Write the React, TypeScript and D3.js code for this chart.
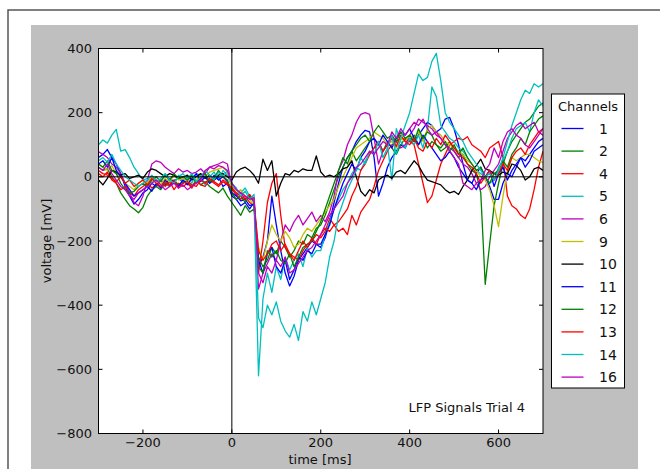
import React from "react";
import * as d3 from "d3";

// time axis, 10 ms steps from -300 to 700
const times = d3.range(-300, 701, 10);

const channels = ["1", "2", "4", "5", "6", "9", "10", "11", "12", "13", "14", "16"];
const colors = ["#0000ff", "#008000", "#ff0000", "#00bfbf", "#bf00bf", "#bfbf00", "#000000", "#0000ff", "#008000", "#ff0000", "#00bfbf", "#bf00bf"];

const ch1 = [
    60, 70, 85, 60, 40, 10, -30, -60, -85, -70,
    -50, -40, -20, -30, -10, -25, -5, -15, 0, -20,
    -10, 5, -15, -5, 10, -20, -10, 0, -30, -20,
    -60, -70, -90, -80, -100, -80, -280, -250, -200, -60,
    -150, -230, -300, -340, -310, -260, -240, -220, -200, -210,
    -220, -190, -140, -80, -20, 30, 60, 80, 110, 130,
    145, 140, 60, -60, -20, 30, 60, 80, 100, 90,
    120, 110, 130, 150, 170, 160, 140, 150, 180, 185,
    150, 100, 40, -10, -20, 10, 30, 0, -30, -70,
    -70, -20, 10, 0, 30, 60, 50, 70, 90, 110,
    120
];
const ch2 = [
    30, 20, 25, 0, -20, -50, -70, -90, -100, -112,
    -95, -60, -40, -30, -40, -20, -30, -10, -25, -15,
    -20, -30, -10, -25, -15, -30, -40, -50, -35, -60,
    -80, -100, -120, -90, -110, -100, -250, -280, -260, -220,
    -240, -200, -220, -250, -230, -200, -210, -180, -190, -160,
    -150, -120, -80, -40, 0, 30, 60, 80, 50, 70,
    90, 110, 120, 100, 80, 110, 90, 70, 100, 120,
    110, 130, 100, 120, 90, 110, 100, 80, 90, 110,
    80, 60, 70, 40, 20, 10, -50, -335, -210, -90,
    -20, 40, 80, 110, 130, 150, 170, 180, 200, 220,
    230
];
const ch4 = [
    10, 0, 15, -10, -20, -40, -30, -50, -60, -40,
    -30, -20, -35, -25, -10, -30, -15, -40, -20, -30,
    -20, -35, -10, -25, -30, -10, -20, -30, -15, -25,
    -40, -55, -70, -60, -80, -90, -300, -200, -80, -20,
    10, -120, -220, -240, -250, -260, -230, -210, -200, -180,
    -190, -170, -130, -150, -170, -160, -180, -120, -150, -110,
    -90, -70, -30, 20, 50, 80, 100, 110, 120, 115,
    110, 100, 40, -20, -80, -60, -10, 40, 70, 100,
    110, 120, 115, 125, 100, 90, 80, 60, 90, 100,
    110, 60, -60, -90, -100, -120, -130, -100, -40, 30,
    80
];
const ch5 = [
    100, 115, 105, 130, 148, 80, 85, 60, 30, 10,
    -10, -5, -20, 0, -15, 10, -10, -20, 5, -15,
    0, -20, 10, 5, -25, 0, 15, -10, 20, 5,
    -30, -40, -50, -35, -60, -80, -620, -380, -300, -360,
    -280, -320, -250, -290, -260, -240, -280, -220, -250, -230,
    -230, -180, -140, -100, -70, -40, -20, 10, 30, 20,
    50, 70, 90, 110, 80, 100, -10, 150, 110, 90,
    120, 100, 130, 90, 150, 280, 250, 160, 140, 120,
    110, 90, 80, 60, 40, 20, 10, 0, -20, -10,
    30, 50, 80, 120, 150, 160, 170, 140, 200, 240,
    220
];
const ch6 = [
    78, 70, 60, 40, 30, 10, -20, -50, -80, -90,
    -60, -10, 40, 50, 45, 30, 20, 10, 25, 15,
    20, 10, 15, 25, 10, 30, 35, 40, 47, 40,
    -30, -60, -50, -70, -60, -80, -350, -300, -270, -240,
    -260, -200, -150, -170, -140, -120, -150, -130, -110, -140,
    -120, -140, -110, -60, 20, 50, 100, 130, 170, 195,
    200, 195, 120, 40, 80, 100, 120, 110, 90, 100,
    130, 150, 180, 170, 160, 150, 130, 120, 100, 90,
    80, 60, 40, 30, 10, -20, -40, -30, 0, 20,
    40, 80, 120, 140, 160, 170, 150, 160, 170, 140,
    130
];
const ch9 = [
    40, 30, 20, 35, 10, 0, -20, -30, -40, -20,
    -10, -20, 0, -10, -25, -5, -15, 5, -10, -5,
    -15, 0, -10, 10, 0, 15, 20, 25, 30, 15,
    -30, -50, -40, -60, -70, -90, -220, -260, -200, -150,
    -180, -200, -170, -190, -220, -210, -180, -160, -170, -150,
    -130, -110, -90, -70, -30, 0, 30, 60, 90, 100,
    110, 120, 140, 130, 120, 100, 110, 90, 120, 110,
    130, 120, 140, 110, 150, 160, 140, 130, 110, 100,
    90, 80, 70, 50, 40, 20, 0, -10, -40, -90,
    -155, -60, 20, 60, 50, 60, 70, 70, 60, 50,
    45
];
const ch10 = [
    -10, -25, -5, 20, 15, 5, 10, -5, 0, 5,
    -5, 15, 25, 20, 10, 0, 10, 5, -5, 0,
    5, -10, 0, 10, -5, 5, -10, 5, 10, 0,
    -10, 15, 25, 30, 20, 5, -20, 55, 20, 50,
    -60, -20, 10, 5, 20, 15, 25, 20, 20, 65,
    15, 0, 5, 0, 10, 25, 30, 50, 0, -45,
    -60, -40, -50, -10, 0, 5, -5, 15, 20, 10,
    30, 50, 35, 10, -10, -15, -20, -25, -40, -50,
    -45, -55, -30, -10, 20, 35, 55, 25, 20, 10,
    5, 15, 10, 40, 35, 20, -10, 0, 25, 30,
    20
];
const ch11 = [
    40, 50, 30, 60, 20, 0, -20, -40, -60, -50,
    -40, -30, -45, -20, -35, -10, -25, -15, -30, -10,
    -25, -5, 10, -15, 0, -20, 5, -10, 0, -15,
    -50, -60, -75, -70, -90, -85, -260, -300, -240, -220,
    -280, -300, -260, -320, -290, -250, -260, -230, -240, -210,
    -210, -180, -150, -100, -60, -20, 10, 40, 20, 60,
    80, 110, 120, 100, 130, 110, 90, 120, 140, 130,
    150, 120, 100, 130, 110, 90, 70, 50, 60, 80,
    60, 30, 10, -10, -20, -40, -10, 0, 20, -30,
    10, 30, -10, 20, 40, 60, 30, 50, 80, 90,
    100
];
const ch12 = [
    40, 30, 50, 20, 10, -20, -40, -50, -45, -30,
    -20, -30, -10, 0, -15, 5, -10, 10, -5, 0,
    -10, 5, -20, 0, 10, -15, -5, 20, 0, -10,
    -50, -70, -60, -80, -60, -75, -280, -300, -230, -250,
    -230, -260, -270, -240, -280, -250, -220, -210, -200, -170,
    -140, -100, -60, -20, 20, 60, 40, 80, 100, 120,
    130, 110, 140, 160, 140, 120, 130, 110, 140, 120,
    130, 110, 150, 120, 140, 130, 100, 90, 110, 80,
    100, 70, 90, 60, 40, 20, 30, 0, -20, 10,
    20, 50, 30, 70, 90, 120, 100, 140, 160, 180,
    190
];
const ch13 = [
    20, 10, 5, -5, -15, 0, -20, -10, -30, -20,
    -10, -25, -5, -20, -30, -15, -25, -10, -35, -20,
    -15, -25, -30, -10, -20, -5, -15, -25, -10, -20,
    -35, -50, -60, -70, -55, -75, -230, -260, -240, -210,
    -200, -230, -210, -240, -260, -230, -200, -220, -190, -210,
    -180, -160, -170, -150, -140, -120, -100, -60, -30, 20,
    40, 70, 90, 110, 80, 100, 120, 95, 130, 110,
    100, 120, 90, 80, 110, 90, 120, 100, 130, 110,
    90, 70, 60, 40, 30, 10, -20, 0, 20, -10,
    10, 40, 20, 60, 80, 90, 70, 100, 120, 140,
    150
];
const ch14 = [
    50, 60, 45, 70, 40, 20, 0, -10, -20, -30,
    -20, -10, 5, -15, -5, 10, -10, -20, 0, 10,
    -5, 10, -15, 0, 20, 5, -10, 15, 0, 20,
    -20, -35, -60, -45, -70, -55, -440, -470, -400, -430,
    -390, -450, -480, -500, -460, -510, -420, -450, -390, -430,
    -380, -330, -250, -200, -120, -80, -40, -10, 20, 60,
    40, 80, 70, 110, 60, 90, 130, 70, 120, 160,
    200, 260, 320, 300, 310, 360, 385, 300, 200, 170,
    150, 130, 110, 80, 60, 40, 20, 0, 10, -10,
    20, 60, 110, 160, 200, 240, 270, 260, 290, 280,
    290
];
const ch16 = [
    30, 20, 40, 10, -10, -30, -40, -60, -70, -50,
    -40, -30, -20, -10, -25, -40, -30, -20, -35, -25,
    -40, -30, -20, -10, 20, 30, 25, 35, 30, 20,
    -20, -40, -50, -60, -70, -65, -300, -330, -280, -300,
    -260, -280, -250, -300, -290, -270, -250, -230, -220, -200,
    -180, -150, -120, -100, -80, -60, -20, 0, 30, 40,
    60, 80, 70, 90, 110, 100, 140, 120, 150, 130,
    150, 170, 160, 180, 150, 130, 140, 120, 100, 80,
    60, 40, -20, -30, -40, -20, -10, 20, 40, 90,
    60, 110, 140, 150, 130, 120, 100, 90, 110, 130,
    150
];
const series = [ch1, ch2, ch4, ch5, ch6, ch9, ch10, ch11, ch12, ch13, ch14, ch16];

const xTicks = [-200, 0, 200, 400, 600];
const yTicks = [-800, -600, -400, -200, 0, 200, 400];

const plot = { left: 98.5, top: 48.5, right: 543, bottom: 433.5 };
const font = "'DejaVu Sans', sans-serif";
const fmt = (v: number) => String(v).replace("-", "\u2212");

export default function App() {
    const x = d3.scaleLinear().domain([-300, 700]).range([plot.left, plot.right]);
    const y = d3.scaleLinear().domain([-800, 400]).range([plot.bottom, plot.top]);
    const line = d3
        .line<number>()
        .x((d, i) => x(times[i]))
        .y((d) => y(d));

    const legend = { x: 551.5, y: 94, w: 73, h: 294, first: 133.5, step: 22.6 };

    return (
        <svg
            width={660}
            height={469}
            style={{ position: "absolute", left: 0, top: 0, background: "#fff" }}
        >
            <path d="M8,469 L8,10 L660,10" fill="none" stroke="#555" strokeWidth={1.5} />
            <rect x={31} y={25} width={607} height={444} fill="#bfbfbf" />
            <defs>
                <clipPath id="plotClip">
                    <rect x={plot.left} y={plot.top} width={plot.right - plot.left} height={plot.bottom - plot.top} />
                </clipPath>
            </defs>
            <rect x={plot.left} y={plot.top} width={plot.right - plot.left} height={plot.bottom - plot.top} fill="#fff" />
            <g clipPath="url(#plotClip)">
                {series.map((s, i) => (
                    <path key={channels[i]} d={line(s) || ""} fill="none" stroke={colors[i]} strokeWidth={1.3} strokeLinejoin="round" />
                ))}
                <line x1={x(0)} x2={x(0)} y1={plot.top} y2={plot.bottom} stroke="#000" strokeWidth={1} />
                <line x1={plot.left} x2={plot.right} y1={y(0)} y2={y(0)} stroke="#000" strokeWidth={1} />
            </g>
            <rect x={plot.left} y={plot.top} width={plot.right - plot.left} height={plot.bottom - plot.top} fill="none" stroke="#000" strokeWidth={1} />
            {xTicks.map((t) => (
                <g key={"x" + t}>
                    <line x1={x(t)} x2={x(t)} y1={plot.bottom} y2={plot.bottom - 4} stroke="#000" />
                    <line x1={x(t)} x2={x(t)} y1={plot.top} y2={plot.top + 4} stroke="#000" />
                    <text x={x(t)} y={447} textAnchor="middle" fontFamily={font} fontSize={13} fill="#111">
                        {fmt(t)}
                    </text>
                </g>
            ))}
            {yTicks.map((t) => (
                <g key={"y" + t}>
                    <line x1={plot.left} x2={plot.left + 4} y1={y(t)} y2={y(t)} stroke="#000" />
                    <line x1={plot.right} x2={plot.right - 4} y1={y(t)} y2={y(t)} stroke="#000" />
                    <text x={92} y={y(t) + 4.5} textAnchor="end" fontFamily={font} fontSize={13} fill="#111">
                        {fmt(t)}
                    </text>
                </g>
            ))}
            <text x={320} y={463.5} textAnchor="middle" fontFamily={font} fontSize={13} fill="#111">
                time [ms]
            </text>
            <text
                transform={`translate(51,${(plot.top + plot.bottom) / 2}) rotate(-90)`}
                textAnchor="middle"
                fontFamily={font}
                fontSize={13}
                fill="#111"
            >
                voltage [mV]
            </text>
            <text x={525} y={411.5} textAnchor="end" fontFamily={font} fontSize={13} fill="#111">
                LFP Signals Trial 4
            </text>
            <rect x={legend.x} y={legend.y} width={legend.w} height={legend.h} fill="#fff" stroke="#000" strokeWidth={1} />
            <text x={legend.x + legend.w / 2} y={111} textAnchor="middle" fontFamily={font} fontSize={13} fill="#111">
                Channels
            </text>
            {channels.map((c, i) => {
                const base = legend.first + i * legend.step;
                return (
                    <g key={"leg" + c}>
                        <line x1={561.5} x2={583.5} y1={base - 5} y2={base - 5} stroke={colors[i]} strokeWidth={1.3} />
                        <text x={599} y={base} fontFamily={font} fontSize={14} fill="#111">
                            {c}
                        </text>
                    </g>
                );
            })}
        </svg>
    );
}
